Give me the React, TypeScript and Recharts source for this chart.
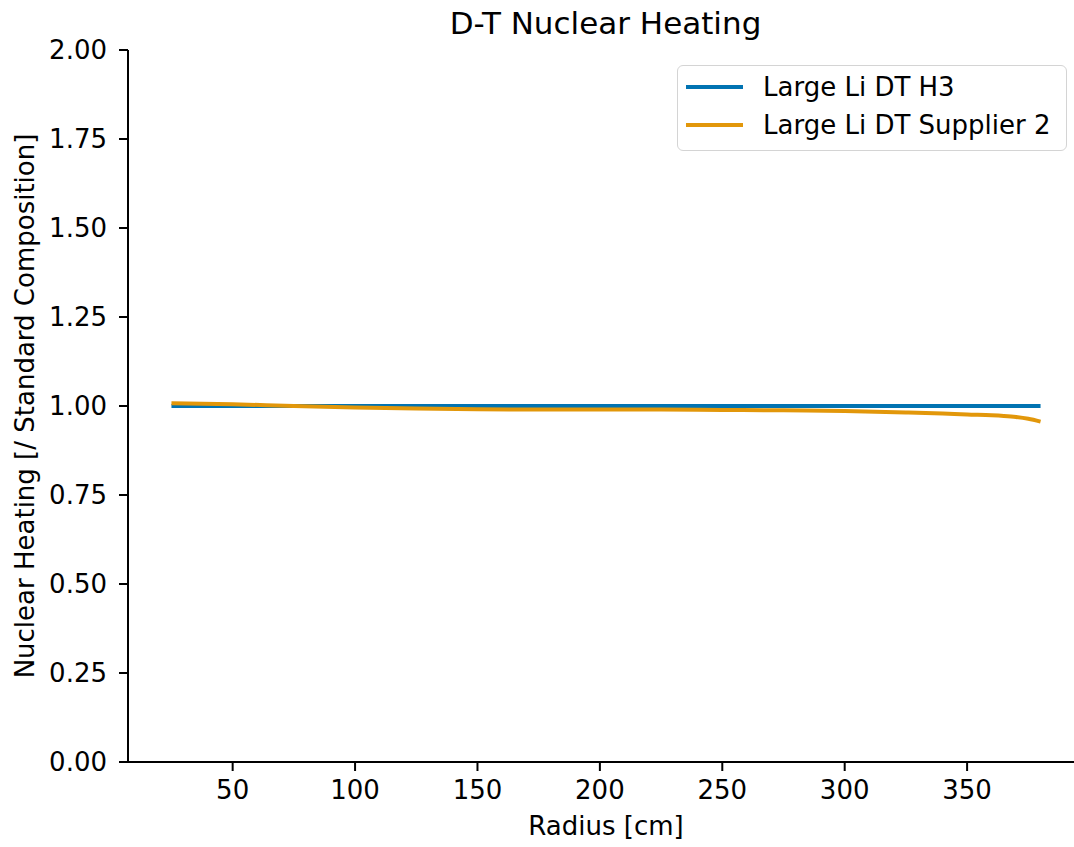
import { LineChart, Line, XAxis, YAxis } from "recharts";

const radius = [25, 50, 75, 100, 125, 150, 175, 200, 225, 250, 275, 300, 325, 340, 350, 360, 365, 370, 375, 380];
const h3Heating = [1, 1, 1, 1, 1, 1, 1, 1, 1, 1, 1, 1, 1, 1, 1, 1, 1, 1, 1, 1];
const supplier2Heating = [
  1.008, 1.005, 1.0, 0.996, 0.993, 0.991, 0.99, 0.99, 0.99, 0.989, 0.988, 0.986, 0.982, 0.979, 0.976, 0.974,
  0.972, 0.969, 0.964, 0.956,
];
const xTicks = [50, 100, 150, 200, 250, 300, 350];
const yTicks = [0, 0.25, 0.5, 0.75, 1, 1.25, 1.5, 1.75, 2];

const FONT = "'DejaVu Sans', sans-serif";
const BLUE = "#0173B2";
const ORANGE = "#E2970A";

const series = [
  { key: "h3", name: "Large Li DT H3", color: BLUE },
  { key: "supplier2", name: "Large Li DT Supplier 2", color: ORANGE },
];

const chartData = radius.map((r, i) => ({
  radius: r,
  h3: h3Heating[i],
  supplier2: supplier2Heating[i],
}));

// legend drawn as an overlay so it doesn't eat into the plot area
const LegendBox = () => (
  <div
    style={{
      position: "absolute",
      left: 677,
      top: 65,
      width: 390,
      height: 86,
      border: "1.5px solid #d4d4d4",
      borderRadius: 6,
      background: "rgba(255,255,255,0.8)",
      fontFamily: FONT,
      fontSize: 26,
      color: "#000",
      boxSizing: "border-box",
      paddingTop: 2,
    }}
  >
    {series.map((s) => (
      <div key={s.key} style={{ display: "flex", alignItems: "center", height: 38 }}>
        <div style={{ width: 57, height: 4, background: s.color, marginLeft: 8, marginRight: 20 }} />
        <span>{s.name}</span>
      </div>
    ))}
  </div>
);

export default function App() {
  return (
    <div style={{ position: "absolute", left: 0, top: 0, width: 1074, height: 847, overflow: "hidden", background: "#fff" }}>
      <div
        style={{
          position: "absolute",
          top: 8,
          left: 0,
          width: 1211,
          textAlign: "center",
          fontFamily: FONT,
          fontSize: 31,
          lineHeight: "31px",
          color: "#000",
        }}
      >
        D-T Nuclear Heating
      </div>
      <LineChart
        width={1084}
        height={847}
        data={chartData}
        margin={{ top: 50, right: 0, left: 0, bottom: 0 }}
        style={{ fontFamily: FONT }}
      >
        <XAxis
          dataKey="radius"
          type="number"
          domain={[7.25, 397.75]}
          ticks={xTicks}
          allowDataOverflow
          height={85}
          stroke="#000"
          strokeWidth={2}
          tickSize={9}
          tickMargin={10}
          tick={{ fill: "#000", fontSize: 26, fontFamily: FONT }}
          label={{
            value: "Radius [cm]",
            position: "insideBottom",
            offset: 12,
            fill: "#000",
            fontSize: 26,
            fontFamily: FONT,
          }}
        />
        <YAxis
          type="number"
          domain={[0, 2]}
          ticks={yTicks}
          width={128}
          stroke="#000"
          strokeWidth={2}
          tickSize={9}
          tickMargin={12}
          tickFormatter={(v) => v.toFixed(2)}
          tick={{ fill: "#000", fontSize: 26, fontFamily: FONT }}
          label={{
            value: "Nuclear Heating [/ Standard Composition]",
            angle: -90,
            position: "insideLeft",
            offset: 25,
            fill: "#000",
            fontSize: 26,
            fontFamily: FONT,
            style: { textAnchor: "middle" },
          }}
        />
        {series.map((s) => (
          <Line
            key={s.key}
            type="monotone"
            dataKey={s.key}
            name={s.name}
            stroke={s.color}
            strokeWidth={4}
            dot={false}
            isAnimationActive={false}
          />
        ))}
      </LineChart>
      <LegendBox />
    </div>
  );
}
